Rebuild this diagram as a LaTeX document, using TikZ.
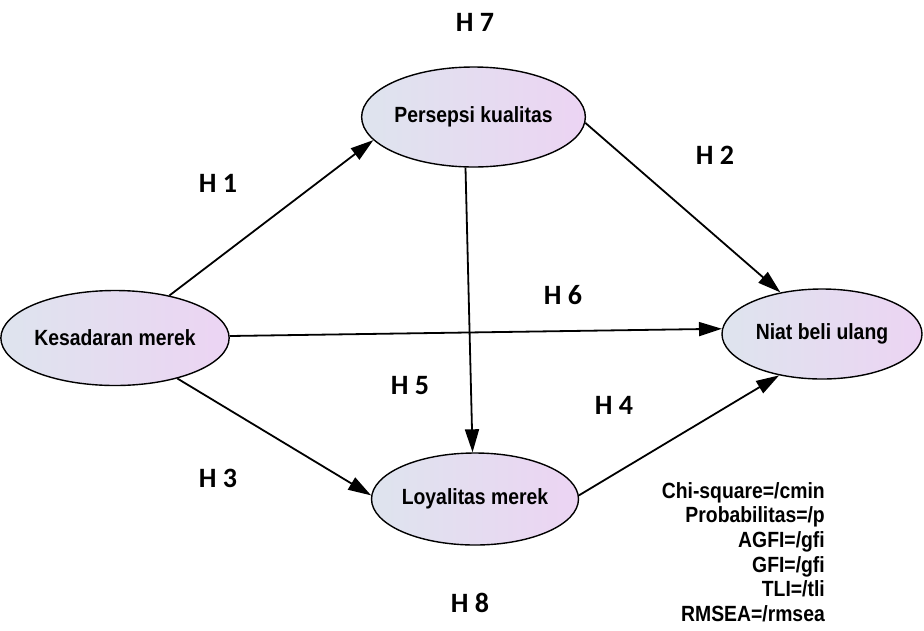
\documentclass[tikz,border=0pt]{standalone}
\usepackage{fontspec}
\setmainfont{Liberation Sans}
\newfontfamily\nodefont[FakeStretch=0.88]{Liberation Sans}
\newfontfamily\labfont{Carlito}
\usetikzlibrary{shapes.geometric,arrows.meta}
\definecolor{ellL}{RGB}{222,228,238}
\definecolor{ellR}{RGB}{236,212,243}
\tikzset{
  varbox/.style={ellipse, draw=black, line width=1.4pt, left color=ellL, right color=ellR,
    inner sep=0pt, font=\nodefont\bfseries\fontsize{22}{26}\selectfont},
  hlab/.style={font=\labfont\bfseries\fontsize{28}{32}\selectfont, inner sep=0pt},
  conn/.style={line width=1.8pt, -{Triangle[length=23pt,width=14pt]}},
  stats/.style={font=\nodefont\bfseries\fontsize{22}{24.7}\selectfont, align=right, inner sep=0pt}
}
\begin{document}
\begin{tikzpicture}[x=1pt,y=-1pt]
\useasboundingbox (0,0) rectangle (924,630);
\node[varbox, minimum width=202pt, minimum height=95pt] (k) at (115,338) {Kesadaran merek};
\node[varbox, minimum width=209pt, minimum height=100pt] (p) at (473.5,117) {Persepsi kualitas};
\node[varbox, minimum width=200pt, minimum height=90pt] (n) at (822,334) {Niat beli ulang};
\node[varbox, minimum width=200pt, minimum height=92pt] (l) at (475,499) {Loyalitas merek};

\draw[conn] (k.38) -- (p.193);
\draw[conn] (p.-3) -- (n.135);
\draw[conn] (k.1) -- (n.177);
\draw[conn] (p.261) -- (l.93);
\draw[conn] (k.-33) -- (l.178);
\draw[conn] (l.2) -- (n.224);

\node[hlab] (h7) at (475,22) {H 7};
\node[hlab] (h1) at (218,183) {H 1};
\node[hlab] (h2) at (715,155) {H 2};
\node[hlab] (h6) at (563,295) {H 6};
\node[hlab] (h5) at (410,386) {H 5};
\node[hlab] (h4) at (614,405) {H 4};
\node[hlab] (h3) at (218,478) {H 3};
\node[hlab] (h8) at (470,603) {H 8};

\node[stats, anchor=north east] (st) at (825,482) {Chi-square=/cmin\\Probabilitas=/p\\AGFI=/gfi\\GFI=/gfi\\TLI=/tli\\RMSEA=/rmsea};
\end{tikzpicture}
\end{document}
